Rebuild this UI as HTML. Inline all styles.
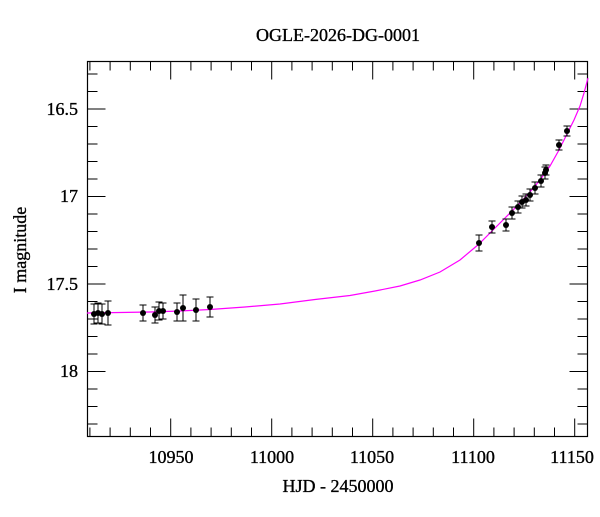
<!DOCTYPE html>
<html><head><style>
body{margin:0;background:#fff;}
svg text{font-family:"Liberation Serif",serif;fill:#000;stroke:#000;stroke-width:0.35;}
</style></head><body>
<svg width="600" height="512" xmlns="http://www.w3.org/2000/svg">
<rect width="600" height="512" fill="#fff"/>
<g stroke="#000" stroke-width="1" fill="none">
<path d="M89.9,436.5v-9M110.1,436.5v-9M130.3,436.5v-9M150.5,436.5v-9M170.7,436.5v-18M190.9,436.5v-9M211.1,436.5v-9M231.3,436.5v-9M251.5,436.5v-9M271.7,436.5v-18M291.9,436.5v-9M312.1,436.5v-9M332.3,436.5v-9M352.5,436.5v-9M372.7,436.5v-18M392.9,436.5v-9M413.1,436.5v-9M433.3,436.5v-9M453.5,436.5v-9M473.7,436.5v-18M493.9,436.5v-9M514.1,436.5v-9M534.3,436.5v-9M554.5,436.5v-9M574.7,436.5v-18"/>
<path d="M89.9,61.5v9M110.1,61.5v9M130.3,61.5v9M150.5,61.5v9M170.7,61.5v18M190.9,61.5v9M211.1,61.5v9M231.3,61.5v9M251.5,61.5v9M271.7,61.5v18M291.9,61.5v9M312.1,61.5v9M332.3,61.5v9M352.5,61.5v9M372.7,61.5v18M392.9,61.5v9M413.1,61.5v9M433.3,61.5v9M453.5,61.5v9M473.7,61.5v18M493.9,61.5v9M514.1,61.5v9M534.3,61.5v9M554.5,61.5v9M574.7,61.5v18"/>
<path d="M87.5,74h10M87.5,91.5h10M87.5,109h18M87.5,126.5h10M87.5,144h10M87.5,161.5h10M87.5,179h10M87.5,196.5h18M87.5,214h10M87.5,231.5h10M87.5,249h10M87.5,266.5h10M87.5,284h18M87.5,301.5h10M87.5,319h10M87.5,336.5h10M87.5,354h10M87.5,371.5h18M87.5,389h10M87.5,406.5h10M87.5,424h10"/>
<path d="M587.5,74h-10M587.5,91.5h-10M587.5,109h-18M587.5,126.5h-10M587.5,144h-10M587.5,161.5h-10M587.5,179h-10M587.5,196.5h-18M587.5,214h-10M587.5,231.5h-10M587.5,249h-10M587.5,266.5h-10M587.5,284h-18M587.5,301.5h-10M587.5,319h-10M587.5,336.5h-10M587.5,354h-10M587.5,371.5h-18M587.5,389h-10M587.5,406.5h-10M587.5,424h-10"/>
</g>
<rect x="87.5" y="61.5" width="500" height="375" fill="none" stroke="#000" stroke-width="1.2"/>
<polyline fill="none" stroke="#ff00ff" stroke-width="1.2" points="87,313 120,312.5 150,312 180,311 210,309.5 245,307 280,304 315,299.5 350,295.5 375,291 400,286 420,280 440,272 460,260 479,244 492,231 505,218 518,205 530,192 540,180 550,166 559,150 567,134 574,120 580,106 584,93 588,78"/>
<g stroke="#000" stroke-width="1" fill="none">
<path d="M94,304V324M90.5,304h7M90.5,324h7
M98,303V323M94.5,303h7M94.5,323h7
M102,304V324M98.5,304h7M98.5,324h7
M108,301V325M104.5,301h7M104.5,325h7
M143,305V321M139.5,305h7M139.5,321h7
M155,307V323M151.5,307h7M151.5,323h7
M159,302V320M155.5,302h7M155.5,320h7
M163,303V319M159.5,303h7M159.5,319h7
M177,303V321M173.5,303h7M173.5,321h7
M183,295V321M179.5,295h7M179.5,321h7
M196,299V321M192.5,299h7M192.5,321h7
M210,297V317M206.5,297h7M206.5,317h7
M479,235V251M475.5,235h7M475.5,251h7
M492,221V233M488.5,221h7M488.5,233h7
M506,219V231M502.5,219h7M502.5,231h7
M512,207V219M508.5,207h7M508.5,219h7
M518,201V213M514.5,201h7M514.5,213h7
M522,196V208M518.5,196h7M518.5,208h7
M526,194V206M522.5,194h7M522.5,206h7
M530,189V201M526.5,189h7M526.5,201h7
M535,182V194M531.5,182h7M531.5,194h7
M541,175V187M537.5,175h7M537.5,187h7
M545,167V179M541.5,167h7M541.5,179h7
M546,165V175M542.5,165h7M542.5,175h7
M559,140V150M555.5,140h7M555.5,150h7
M567,126V136M563.5,126h7M563.5,136h7"/>
</g>
<g fill="#000">
<circle cx="94" cy="314" r="3"/><circle cx="98" cy="313" r="3"/><circle cx="102" cy="314" r="3"/><circle cx="108" cy="313" r="3"/>
<circle cx="143" cy="313" r="3"/><circle cx="155" cy="315" r="3"/><circle cx="159" cy="311" r="3"/><circle cx="163" cy="311" r="3"/>
<circle cx="177" cy="312" r="3"/><circle cx="183" cy="308" r="3"/><circle cx="196" cy="310" r="3"/><circle cx="210" cy="307" r="3"/>
<circle cx="479" cy="243" r="3"/><circle cx="492" cy="227" r="3"/><circle cx="506" cy="225" r="3"/><circle cx="512" cy="213" r="3"/>
<circle cx="518" cy="207" r="3"/><circle cx="522" cy="202" r="3"/><circle cx="526" cy="200" r="3"/><circle cx="530" cy="195" r="3"/>
<circle cx="535" cy="188" r="3"/><circle cx="541" cy="181" r="3"/><circle cx="545" cy="173" r="3"/><circle cx="546" cy="170" r="3"/>
<circle cx="559" cy="145" r="3"/><circle cx="567" cy="131" r="3"/>
</g>
<text x="338" y="41" font-size="18" text-anchor="middle">OGLE-2026-DG-0001</text>
<g font-size="18" text-anchor="end">
<text x="78" y="115">16.5</text>
<text x="78" y="202">17</text>
<text x="78" y="290">17.5</text>
<text x="78" y="377">18</text>
</g>
<g font-size="18" text-anchor="middle">
<text x="171" y="463">10950</text>
<text x="272" y="463">11000</text>
<text x="372" y="463">11050</text>
<text x="473" y="463">11100</text>
<text x="572" y="463">11150</text>
</g>
<text x="338" y="492" font-size="18" text-anchor="middle">HJD - 2450000</text>
<text transform="translate(26,250) rotate(-90)" font-size="18" text-anchor="middle">I magnitude</text>
</svg>
</body></html>
